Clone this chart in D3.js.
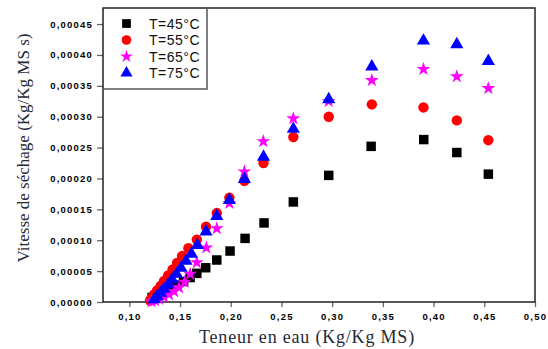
<!DOCTYPE html>
<html>
<head>
<meta charset="utf-8">
<script src="https://cdn.jsdelivr.net/npm/d3@7"></script>
<style>
  body { margin: 0; background: #fff; }
  svg { display: block; }
</style>
</head>
<body>
<svg id="chart" width="548" height="349"></svg>
<script>
// teneur en eau (Kg/Kg MS) et vitesse de sechage pour chaque temperature
const x45 = [0.4540, 0.4229, 0.3903, 0.3384, 0.2966, 0.2617, 0.2328, 0.2141, 0.1993, 0.1862, 0.1753, 0.1665,
             0.1599, 0.1535, 0.1470, 0.1411, 0.1357, 0.1303, 0.1258, 0.1224];
const v45 = [0.000207, 0.000242, 0.000263, 0.000252, 0.000205, 0.000162, 0.000128, 0.000103, 0.0000825, 0.000068, 0.0000555, 0.0000464,
             0.0000396, 0.0000332, 0.0000275, 0.0000227, 0.0000186, 0.0000146, 0.0000105, 0.0000073];

const x55 = [0.4540, 0.4229, 0.3900, 0.3391, 0.2966, 0.2617, 0.2323, 0.2134, 0.1986, 0.1862, 0.1756, 0.1665, 0.1582,
             0.1520, 0.1470, 0.1426, 0.1382, 0.1342, 0.1308, 0.1273, 0.1244, 0.1219, 0.1204];
const v55 = [0.000262, 0.000294, 0.000315, 0.000320, 0.000300, 0.000267, 0.000225, 0.000196, 0.000169, 0.000144, 0.000122, 0.000101, 0.000087,
             0.0000744, 0.0000631, 0.0000526, 0.0000429, 0.000034, 0.0000259, 0.0000186, 0.0000121, 0.0000065, 0.0000024];

const x65 = [0.4540, 0.4229, 0.3900, 0.3391, 0.2966, 0.2617, 0.2321, 0.2134, 0.1986, 0.1862, 0.1759, 0.1665,
             0.1599, 0.1544, 0.1490, 0.1441, 0.1392, 0.1342, 0.1293, 0.1253, 0.1219];
const v65 = [0.000346, 0.000365, 0.000377, 0.000359, 0.000325, 0.000297, 0.000260, 0.000211, 0.000160, 0.000119, 0.000088, 0.000064,
             0.0000453, 0.0000324, 0.0000235, 0.000017, 0.0000121, 0.0000081, 0.0000049, 0.0000024, 0.0000008];

const x75 = [0.4540, 0.4229, 0.3900, 0.3391, 0.2966, 0.2617, 0.2323, 0.2134, 0.1986, 0.1862, 0.1756, 0.1671,
             0.1613, 0.1559, 0.1510, 0.1465, 0.1421, 0.1382, 0.1342, 0.1308, 0.1273, 0.1244];
const v75 = [0.000390, 0.000417, 0.000423, 0.000381, 0.000328, 0.000280, 0.000235, 0.000199, 0.000165, 0.000139, 0.000114, 0.000092,
             0.0000777, 0.0000663, 0.000055, 0.0000453, 0.0000364, 0.0000283, 0.000021, 0.0000146, 0.0000089, 0.000004];

const seriesNames = ["T=45°C", "T=55°C", "T=65°C", "T=75°C"];
const xTicks = [0.10, 0.15, 0.20, 0.25, 0.30, 0.35, 0.40, 0.45, 0.50];
const yTicks = [0, 0.00005, 0.0001, 0.00015, 0.0002, 0.00025, 0.0003, 0.00035, 0.0004, 0.00045];

const series = [
  { name: seriesNames[0], xs: x45, ys: v45, color: "#000000", sym: d3.symbolSquare, size: 90 },
  { name: seriesNames[1], xs: x55, ys: v55, color: "#ff0000", sym: d3.symbolCircle, size: 85 },
  { name: seriesNames[2], xs: x65, ys: v65, color: "#ff00ff", sym: d3.symbolStar, size: 60 },
  { name: seriesNames[3], xs: x75, ys: v75, color: "#0000ff", sym: d3.symbolTriangle, size: 75 }
];

const svg = d3.select("#chart");
const plotL = 103, plotR = 535, plotT = 8, plotB = 302;

const x = d3.scaleLinear().domain([0.074, 0.50]).range([plotL, plotR]);
const y = d3.scaleLinear().domain([0, 0.000476]).range([plotB, plotT]);

const fmt = (d, n) => d.toFixed(n).replace(".", ",");

// axes
const xAxis = svg.append("g")
  .attr("transform", `translate(0,${plotB})`)
  .call(d3.axisBottom(x).tickValues(xTicks).tickSize(5).tickSizeOuter(0).tickFormat(d => fmt(d, 2)));
const yAxis = svg.append("g")
  .attr("transform", `translate(${plotL},0)`)
  .call(d3.axisLeft(y).tickValues(yTicks).tickSize(6).tickSizeOuter(0).tickFormat(d => fmt(d, 5)));

[xAxis, yAxis].forEach(g => {
  g.select(".domain").remove();
  g.selectAll(".tick line").attr("stroke", "#666").attr("stroke-width", 1.3);
  g.selectAll(".tick text")
    .attr("fill", "#000")
    .style("font-family", "Arial, 'Liberation Sans', sans-serif")
    .style("font-weight", "bold")
    .style("font-size", "9.5px")
    .style("letter-spacing", "1.2px");
});
xAxis.selectAll(".tick text").attr("dy", "0.71em").attr("y", 11);
yAxis.selectAll(".tick text").attr("x", -10);

// cadre
svg.append("rect")
  .attr("x", plotL).attr("y", plotT)
  .attr("width", plotR - plotL).attr("height", plotB - plotT)
  .attr("fill", "none").attr("stroke", "#222").attr("stroke-width", 1.5);

// points
series.forEach(s => {
  svg.append("g")
    .selectAll("path")
    .data(s.xs.map((v, i) => [v, s.ys[i]]).reverse())
    .join("path")
    .attr("transform", d => `translate(${x(d[0])},${y(d[1])})`)
    .attr("d", d3.symbol().type(s.sym).size(s.size))
    .attr("fill", s.color);
});

// legende
const leg = svg.append("g");
leg.append("path")
  .attr("d", `M${plotL},89 H207 V${plotT}`)
  .attr("fill", "none").attr("stroke", "#555").attr("stroke-width", 1.5);
series.forEach((s, i) => {
  const ly = 23.5 + i * 16.5;
  leg.append("path")
    .attr("transform", `translate(126.5,${ly})`)
    .attr("d", d3.symbol().type(s.sym).size(s.size * 0.85))
    .attr("fill", s.color);
  leg.append("text")
    .attr("x", 149).attr("y", ly + 5)
    .style("font-family", "Arial, 'Liberation Sans', sans-serif")
    .style("font-size", "14px")
    .style("letter-spacing", "0.5px")
    .attr("fill", "#111")
    .text(s.name);
});

// titres des axes
svg.append("text")
  .attr("x", 307).attr("y", 343)
  .attr("text-anchor", "middle")
  .style("font-family", "'Liberation Serif', 'Times New Roman', serif")
  .style("font-size", "18px")
  .style("letter-spacing", "0.8px")
  .attr("fill", "#1f2a36")
  .text("Teneur en eau (Kg/Kg MS)");

svg.append("text")
  .attr("transform", "translate(29,148) rotate(-90)")
  .attr("text-anchor", "middle")
  .style("font-family", "'Liberation Serif', 'Times New Roman', serif")
  .style("font-size", "17px")
  .attr("fill", "#1f2a36")
  .text("Vitesse de séchage (Kg/Kg MS s)");
</script>
</body>
</html>
